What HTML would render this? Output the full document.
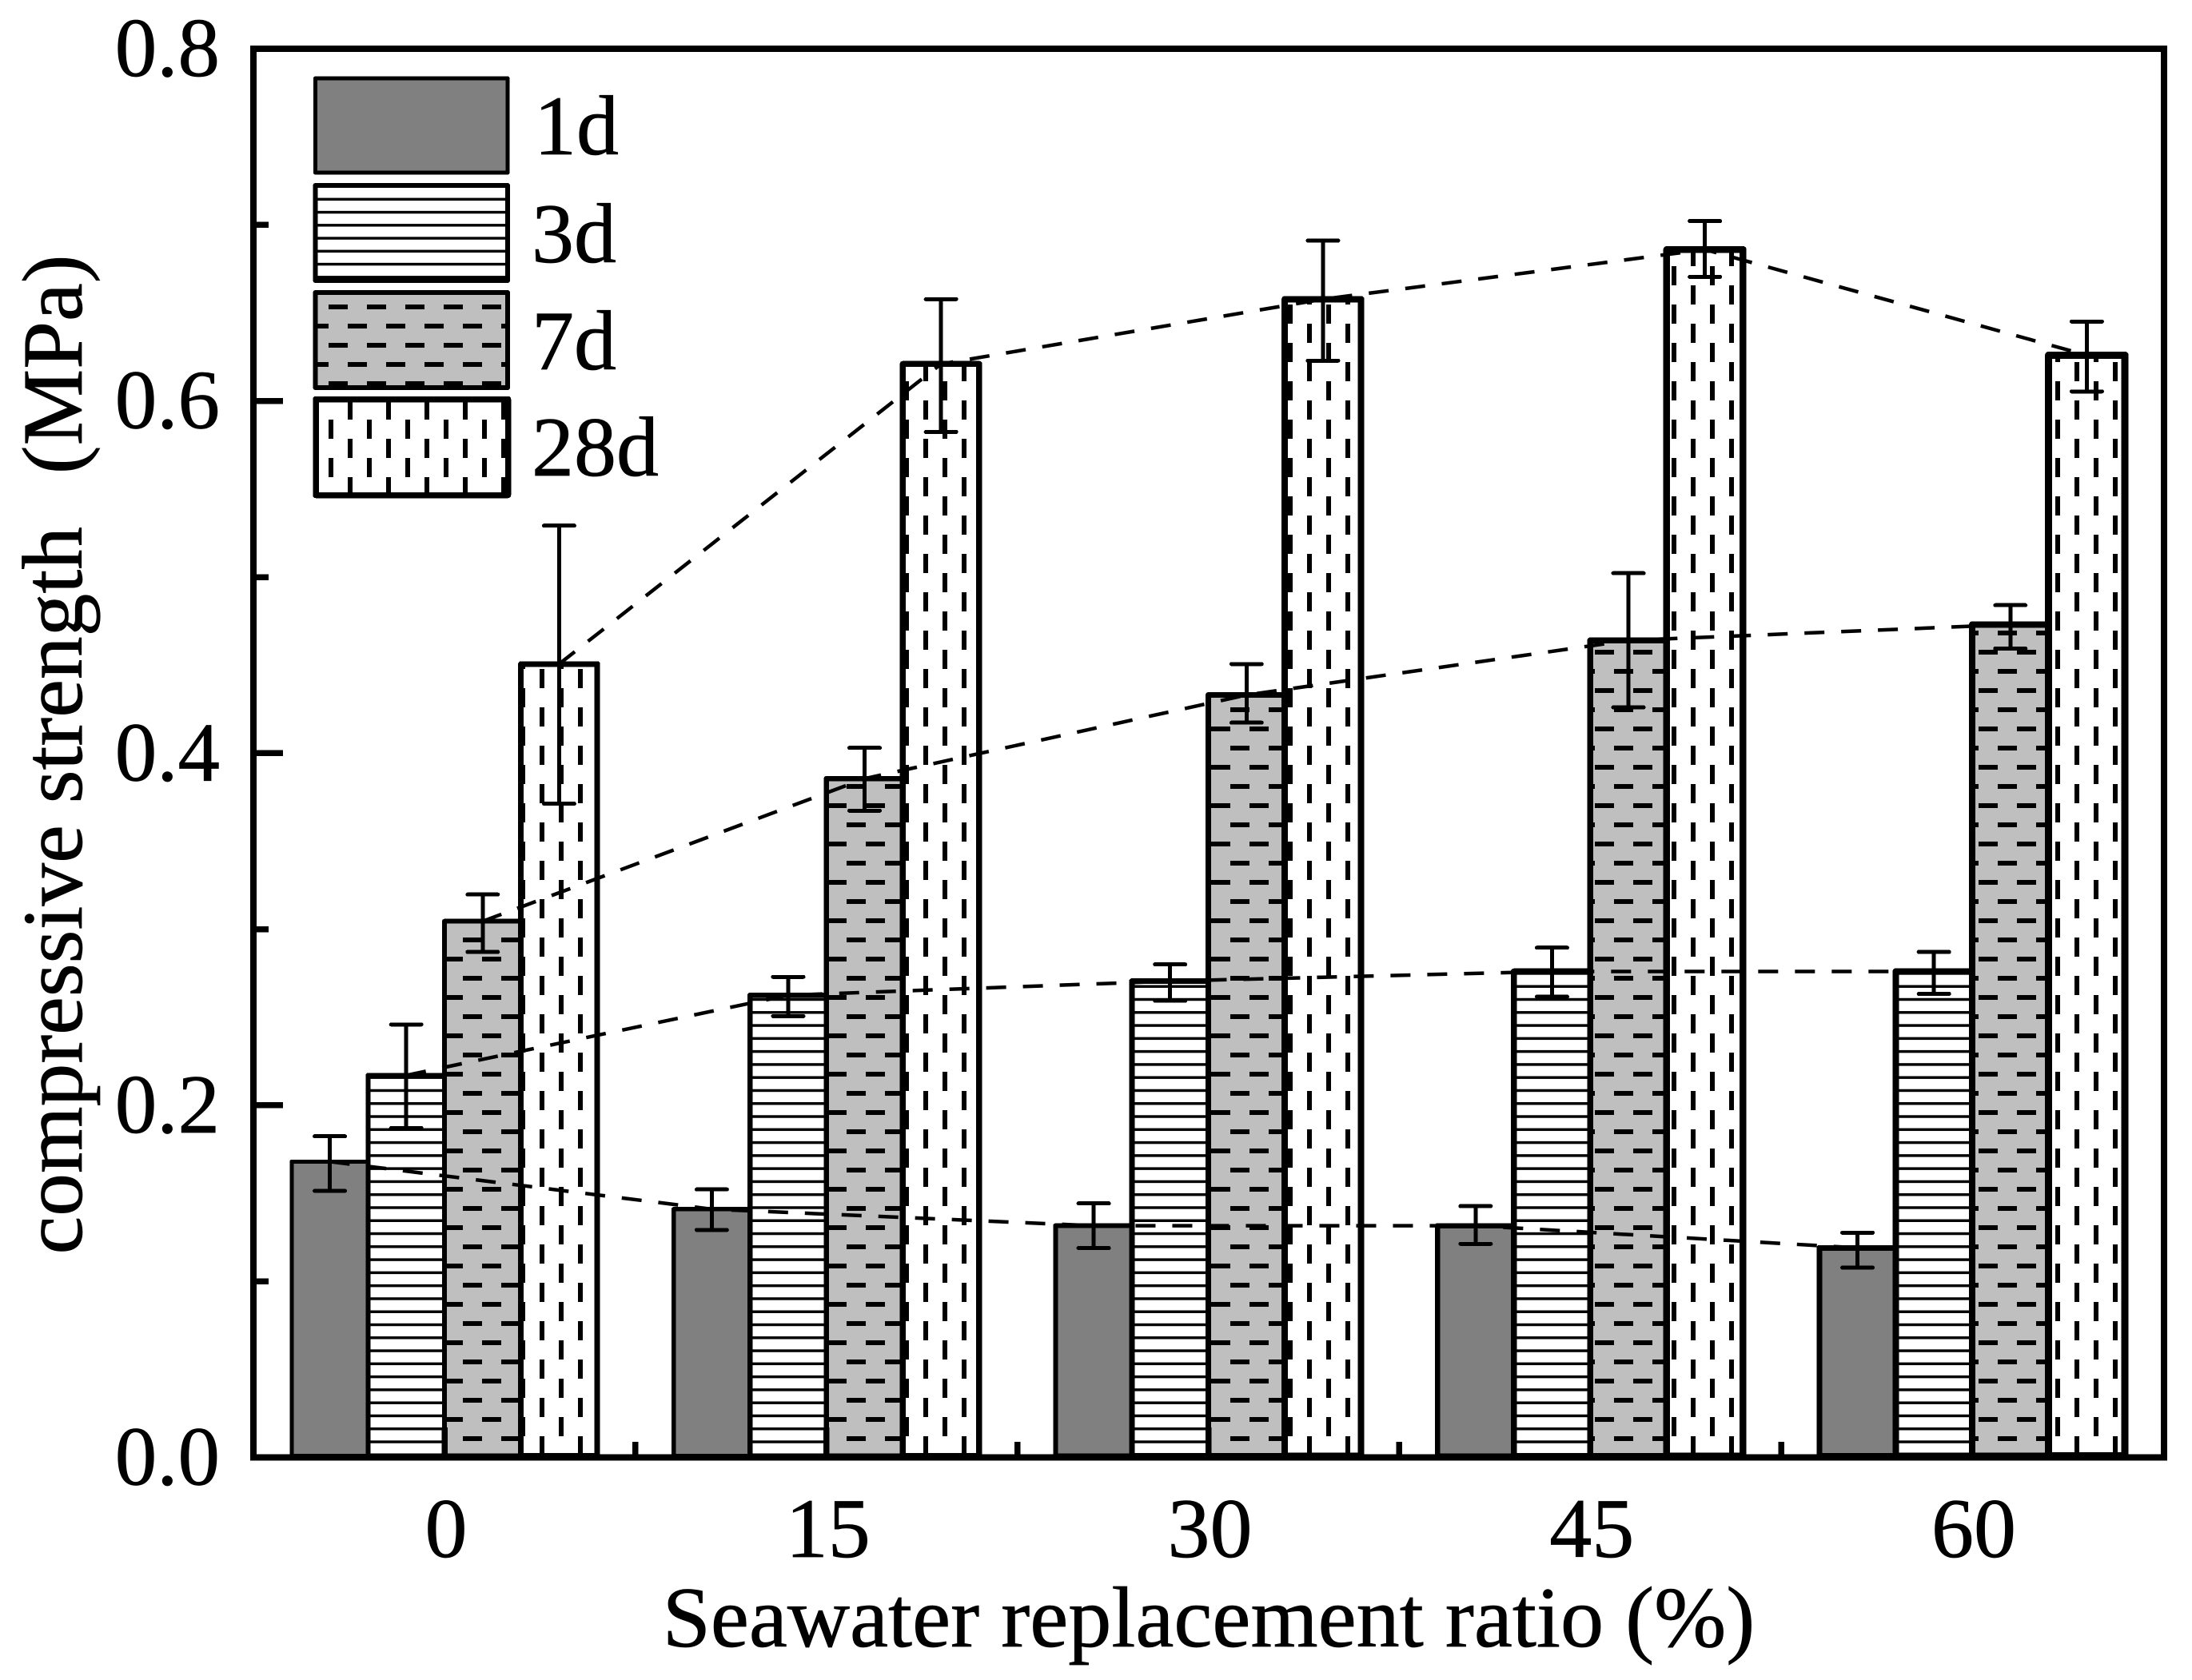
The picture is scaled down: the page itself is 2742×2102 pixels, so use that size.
<!DOCTYPE html>
<html lang="en">
<head>
<meta charset="utf-8">
<title>Compressive strength vs seawater replacement ratio</title>
<style>
html,body{margin:0;padding:0;background:#fff;width:2742px;height:2102px;overflow:hidden}
svg{display:block}
text{font-family:"Liberation Serif","Times New Roman",serif;fill:#000;stroke:#000;stroke-width:0.7}
</style>
</head>
<body>
<svg id="chart" xmlns="http://www.w3.org/2000/svg" width="2742" height="2102" viewBox="0 0 2742 2102" shape-rendering="crispEdges">
  <defs>
    <pattern id="hatch-3d" patternUnits="userSpaceOnUse" x="0" y="1802.3" width="48" height="16.28">
      <rect x="0" y="0" width="48" height="3.4" fill="#000"/>
    </pattern>
    <pattern id="hatch-3d-legend" patternUnits="userSpaceOnUse" x="0" y="247.6" width="48" height="16.25">
      <rect x="0" y="0" width="48" height="3.4" fill="#000"/>
    </pattern>
    <pattern id="hatch-7d" patternUnits="userSpaceOnUse" x="3" y="0" width="48" height="48">
      <rect x="0" y="21" width="24" height="6" fill="#000"/>
      <rect x="24" y="45" width="24" height="3" fill="#000"/>
      <rect x="24" y="0" width="24" height="3" fill="#000"/>
    </pattern>
    <pattern id="hatch-28d" patternUnits="userSpaceOnUse" x="3" y="21" width="48" height="48">
      <rect x="0" y="0" width="6" height="24" fill="#000"/>
      <rect x="24" y="24" width="6" height="24" fill="#000"/>
    </pattern>
  </defs>
  <g id="bars"></g>
  <g id="trends"></g>
  <g id="errors"></g>
  <g id="ticks"></g>
  <rect x="317" y="61" width="2390" height="1762.5" fill="none" stroke="#000" stroke-width="8"/>
  <g id="tick-labels"></g>
  <text x="1512" y="2060" font-size="108.2" text-anchor="middle">Seawater replacement ratio (%)</text>
  <text transform="translate(102,944) rotate(-90)" font-size="107.5" text-anchor="middle" style="white-space:pre">compressive strength  <tspan dx="12">(MPa)</tspan></text>
  <g>
    <rect x="394.5" y="98" width="240.5" height="118" fill="#808080" stroke="#000" stroke-width="5" stroke-linejoin="round"/>
    <rect x="394.5" y="232" width="240.5" height="119" fill="#fff"/>
    <rect x="394.5" y="232" width="240.5" height="119" fill="url(#hatch-3d-legend)" stroke="#000" stroke-width="6" stroke-linejoin="round"/>
    <rect x="394.5" y="366" width="240.5" height="119" fill="#bfbfbf"/>
    <rect x="394.5" y="366" width="240.5" height="119" fill="url(#hatch-7d)" stroke="#000" stroke-width="6" stroke-linejoin="round"/>
    <rect x="395" y="499.5" width="240.5" height="120" fill="#fff"/>
    <rect x="395" y="499.5" width="240.5" height="120" fill="url(#hatch-28d)" stroke="#000" stroke-width="7.5" stroke-linejoin="round"/>
    <text x="668" y="193" font-size="106">1d</text>
    <text x="665" y="328" font-size="106">3d</text>
    <text x="665" y="462" font-size="106">7d</text>
    <text x="665" y="595" font-size="106">28d</text>
  </g>
</svg>
<script>
// Chart data
const categories = [0, 15, 30, 45, 60];
const seriesNames = ["1d", "3d", "7d", "28d"];
const strength1d = [0.168, 0.141, 0.1316, 0.1316, 0.119];
const strength3d = [0.217, 0.2625, 0.2705, 0.276, 0.276];
const strength7d = [0.3045, 0.3855, 0.433, 0.464, 0.473];
const strength28d = [0.4506, 0.621, 0.6578, 0.686, 0.626];
const high1d = [0.1824, 0.1522, 0.1443, 0.1427, 0.1276];
const low1d = [0.1514, 0.1292, 0.1189, 0.1213, 0.1078];
const high3d = [0.2459, 0.2729, 0.28, 0.2895, 0.2871];
const low3d = [0.1871, 0.2506, 0.2594, 0.2617, 0.2633];
const high7d = [0.3197, 0.403, 0.4506, 0.5022, 0.484];
const low7d = [0.2871, 0.3673, 0.4173, 0.426, 0.4594];
const high28d = [0.5292, 0.6578, 0.6911, 0.7022, 0.6451];
const low28d = [0.3713, 0.5824, 0.6229, 0.6705, 0.6054];
const yMajorTicks = ["0.0", "0.2", "0.4", "0.6", "0.8"];
const yMinorTicks = [0.1, 0.3, 0.5, 0.7];
const xMinorTicks = [7.5, 22.5, 37.5, 52.5];

const valueGroups = [strength1d, strength3d, strength7d, strength28d];
const highGroups = [high1d, high3d, high7d, high28d];
const lowGroups = [low1d, low3d, low7d, low28d];

const SVGNS = "http://www.w3.org/2000/svg";
const yAxis = v => 1823.5 - v * 2203;
const xAxis = v => 556 + (v / 15) * 477.75;
const BAR_W = 95.6;
const seriesX = (cat, s) => xAxis(cat) + (s - 1.5) * BAR_W;
const fills = ["#808080", "#ffffff", "#bfbfbf", "#ffffff"];
const hatches = [null, "url(#hatch-3d)", "url(#hatch-7d)", "url(#hatch-28d)"];
const strokeWs = [5, 6, 6, 7];

function make(tag, parent, props) {
  const el = document.createElementNS(SVGNS, tag);
  for (const k in props) el.setAttribute(k, props[k]);
  parent.appendChild(el);
  return el;
}

const barsG = document.getElementById("bars");
const trendsG = document.getElementById("trends");
const errorsG = document.getElementById("errors");
const ticksG = document.getElementById("ticks");
const labelsG = document.getElementById("tick-labels");

seriesNames.forEach((name, s) => {
  categories.forEach((cat, i) => {
    const cx = seriesX(cat, s);
    const top = yAxis(valueGroups[s][i]);
    const h = yAxis(0) - 2 - top;
    const sw = strokeWs[s] + i * 0.5;
    const base = make("rect", barsG, {
      x: cx - BAR_W / 2, y: top, width: BAR_W, height: h,
      fill: fills[s], stroke: "#000", "stroke-width": sw, "stroke-linejoin": "round"
    });
    
    
    if (hatches[s]) {
      const hatch = make("rect", barsG, {
        x: cx - BAR_W / 2, y: top, width: BAR_W, height: h,
        fill: hatches[s], stroke: "#000", "stroke-width": sw, "stroke-linejoin": "round"
      });
      
      
    }
  });
});

seriesNames.forEach((name, s) => {
  const pts = categories.map((cat, i) => seriesX(cat, s) + "," + yAxis(valueGroups[s][i])).join(" ");
  const line = make("polyline", trendsG, {
    points: pts, fill: "none", stroke: "#000", "stroke-width": 4.5,
    "stroke-dasharray": "25 21", "shape-rendering": "auto"
  });
  
  
});

seriesNames.forEach((name, s) => {
  categories.forEach((cat, i) => {
    const cx = seriesX(cat, s);
    const yh = yAxis(highGroups[s][i]);
    const yl = yAxis(lowGroups[s][i]);
    const d = "M" + cx + " " + yh + "V" + yl +
      "M" + (cx - 19) + " " + yh + "H" + (cx + 19) +
      "M" + (cx - 19) + " " + yl + "H" + (cx + 19);
    const err = make("path", errorsG, {
      d: d, fill: "none", stroke: "#000", "stroke-width": 5, "stroke-linecap": "round"
    });
    
    
  });
});

yMajorTicks.forEach(label => {
  const y = yAxis(parseFloat(label));
  const tick = make("line", ticksG, { x1: 317, x2: 354, y1: y, y2: y, stroke: "#000", "stroke-width": 7.5 });
  
  
  const t = make("text", labelsG, { x: 275, y: y + 34, "font-size": 105, "text-anchor": "end" });
  t.textContent = label;
  
  
});
yMinorTicks.forEach(v => {
  const y = yAxis(v);
  const tick = make("line", ticksG, { x1: 317, x2: 336, y1: y, y2: y, stroke: "#000", "stroke-width": 7.5 });
  
  
});
categories.forEach(cat => {
  const x = xAxis(cat);
  const tick = make("line", ticksG, { x1: x, x2: x, y1: 1823.5, y2: 1786, stroke: "#000", "stroke-width": 7.5 });
  
  
  const t = make("text", labelsG, { x: x + 2, y: 1948, "font-size": 106, "text-anchor": "middle" });
  t.textContent = String(cat);
  
  
});
xMinorTicks.forEach(v => {
  const x = xAxis(v);
  const tick = make("line", ticksG, { x1: x, x2: x, y1: 1823.5, y2: 1804, stroke: "#000", "stroke-width": 7.5 });
  
  
});
</script>
</body>
</html>
